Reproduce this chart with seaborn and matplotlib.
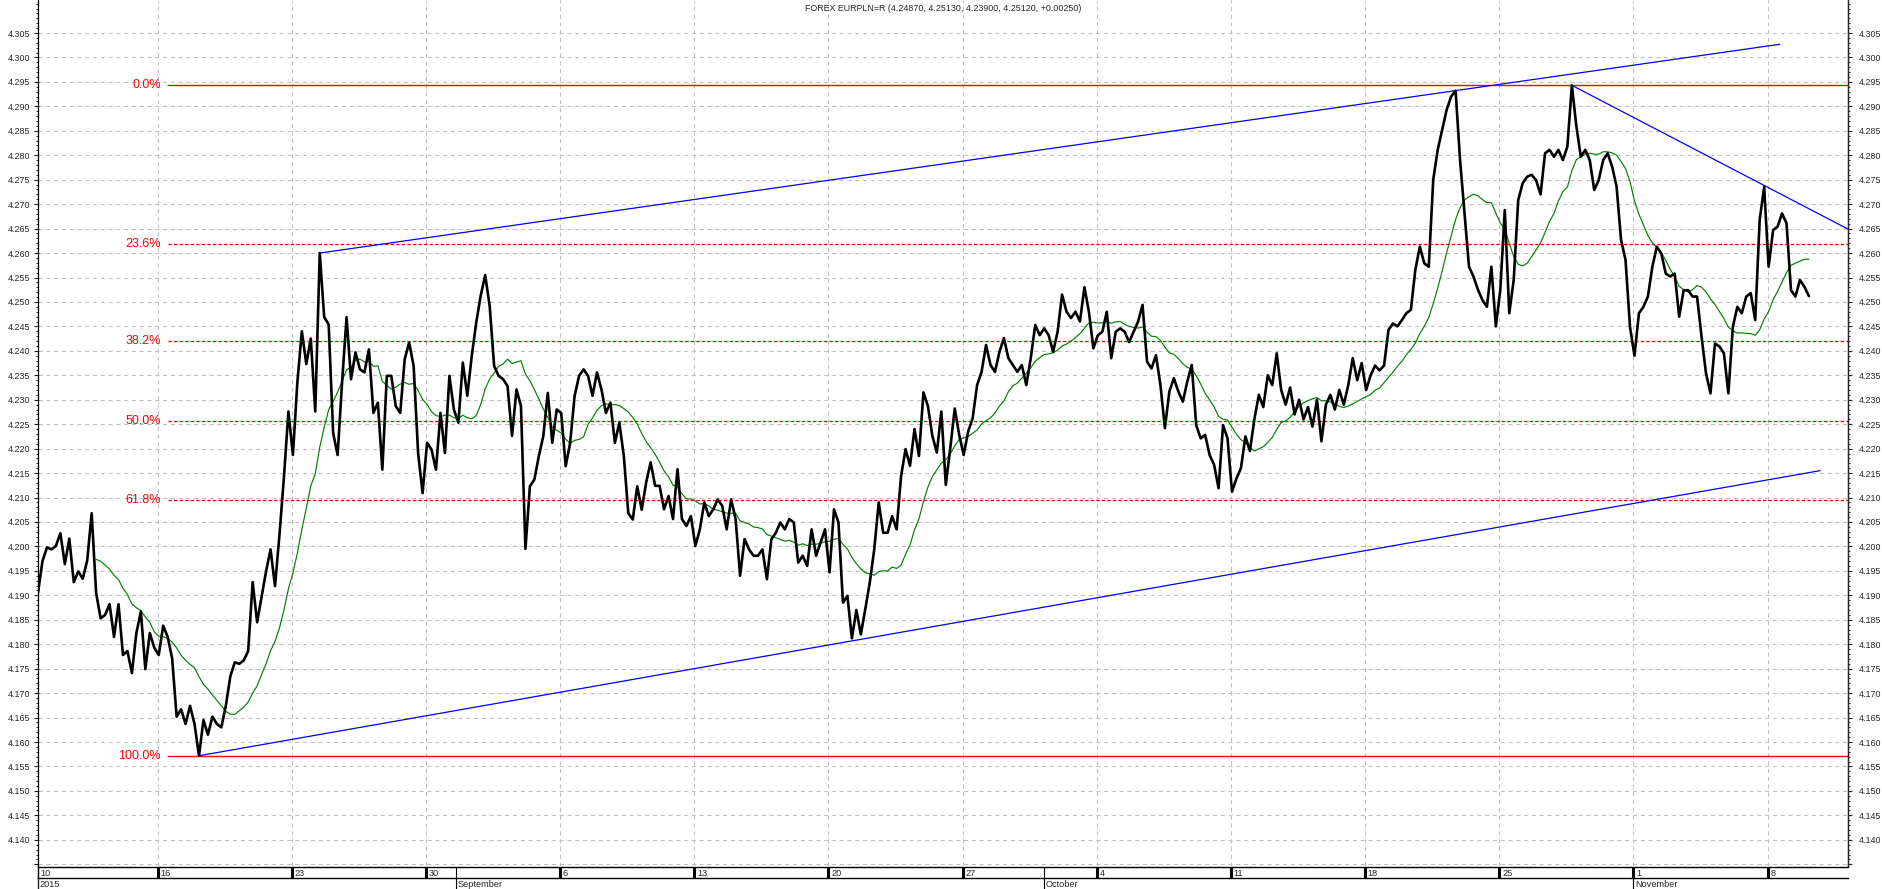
import numpy as np
import pandas as pd
import matplotlib
matplotlib.use("Agg")
import matplotlib.pyplot as plt
from matplotlib.ticker import FixedLocator, FuncFormatter
import seaborn as sns

TITLE = "FOREX EURPLN=R (4.24870, 4.25130, 4.23900, 4.25120, +0.00250)"
BAR_STEP = 4          # hourly bars between two samples below
MA_WINDOW = 14        # samples in the green moving average

# EUR/PLN, one value every 4 hourly bars
aug_10_to_26 = [4.1905, 4.1970, 4.1998, 4.1994, 4.2001, 4.2027, 4.1964, 4.2016, 4.1927, 4.1949,
                4.1934, 4.1971, 4.2068, 4.1905, 4.1853, 4.1860, 4.1882, 4.1815, 4.1882, 4.1778,
                4.1786, 4.1741, 4.1823, 4.1867, 4.1749, 4.1823, 4.1793, 4.1778, 4.1838, 4.1815,
                4.1771, 4.1652, 4.1667, 4.1637, 4.1674, 4.1637, 4.1572, 4.1645, 4.1615, 4.1652,
                4.1637, 4.1630, 4.1674, 4.1734, 4.1763, 4.1760, 4.1767, 4.1786, 4.1927, 4.1845,
                4.1897, 4.1949, 4.1994, 4.1919, 4.2024, 4.2142, 4.2276, 4.2187, 4.2336, 4.2440,
                4.2373, 4.2425, 4.2276, 4.2600, 4.2469, 4.2454, 4.2232, 4.2187, 4.2336, 4.2469]
aug_26_to_sep_14 = [4.2342, 4.2397, 4.2362, 4.2356, 4.2403, 4.2273, 4.2294, 4.2157, 4.2349, 4.2349,
                    4.2287, 4.2273, 4.2383, 4.2417, 4.2369, 4.2191, 4.2109, 4.2212, 4.2198, 4.2157,
                    4.2273, 4.2191, 4.2349, 4.2280, 4.2253, 4.2376, 4.2308, 4.2390, 4.2458, 4.2513,
                    4.2555, 4.2492, 4.2369, 4.2349, 4.2342, 4.2328, 4.2226, 4.2321, 4.2287, 4.1995,
                    4.2123, 4.2137, 4.2185, 4.2226, 4.2314, 4.2212, 4.2280, 4.2273, 4.2164, 4.2212,
                    4.2308, 4.2349, 4.2362, 4.2349, 4.2308, 4.2356, 4.2321, 4.2273, 4.2294, 4.2212,
                    4.2253, 4.2185, 4.2068, 4.2055, 4.2123, 4.2075]
sep_14_to_oct_1 = [4.2131, 4.2172, 4.2124, 4.2124, 4.2076, 4.2103, 4.2056, 4.2158, 4.2056, 4.2042,
                   4.2062, 4.2001, 4.2035, 4.2090, 4.2062, 4.2076, 4.2096, 4.2083, 4.2035, 4.2096,
                   4.2056, 4.1940, 4.2015, 4.1994, 4.1981, 4.1981, 4.1994, 4.1933, 4.2015, 4.2028,
                   4.2049, 4.2035, 4.2056, 4.2049, 4.1967, 4.1981, 4.1960, 4.2035, 4.1981, 4.2008,
                   4.2035, 4.1947, 4.2076, 4.2049, 4.1885, 4.1899, 4.1812, 4.1870, 4.1820, 4.1872,
                   4.1926, 4.1994, 4.2090, 4.2028, 4.2028, 4.2062, 4.2035, 4.2144, 4.2199, 4.2165,
                   4.2240, 4.2185, 4.2315, 4.2287, 4.2226, 4.2192]
oct_1_to_16 = [4.2276, 4.2126, 4.2201, 4.2282, 4.2228, 4.2187, 4.2235, 4.2262, 4.2330, 4.2357,
               4.2412, 4.2371, 4.2357, 4.2398, 4.2426, 4.2385, 4.2371, 4.2357, 4.2371, 4.2330,
               4.2385, 4.2453, 4.2432, 4.2446, 4.2432, 4.2398, 4.2439, 4.2515, 4.2480, 4.2467,
               4.2480, 4.2460, 4.2530, 4.2480, 4.2405, 4.2432, 4.2439, 4.2480, 4.2385, 4.2439,
               4.2446, 4.2439, 4.2418, 4.2439, 4.2460, 4.2494, 4.2378, 4.2364, 4.2391, 4.2330,
               4.2242, 4.2317, 4.2344, 4.2317, 4.2296, 4.2337, 4.2371, 4.2248, 4.2221, 4.2228,
               4.2187, 4.2167, 4.2119, 4.2248, 4.2221, 4.2112, 4.2139]
oct_16_to_nov_2 = [4.2160, 4.2225, 4.2195, 4.2260, 4.2310, 4.2285, 4.2350, 4.2330, 4.2395, 4.2320,
                   4.2290, 4.2325, 4.2270, 4.2300, 4.2260, 4.2285, 4.2245, 4.2300, 4.2215, 4.2290,
                   4.2310, 4.2280, 4.2320, 4.2290, 4.2330, 4.2385, 4.2340, 4.2375, 4.2320, 4.2350,
                   4.2370, 4.2360, 4.2370, 4.2443, 4.2456, 4.2450, 4.2463, 4.2477, 4.2484, 4.2566,
                   4.2613, 4.2579, 4.2572, 4.2750, 4.2811, 4.2852, 4.2893, 4.2920, 4.2932, 4.2790,
                   4.2681, 4.2572, 4.2552, 4.2525, 4.2504, 4.2490, 4.2572, 4.2450, 4.2525, 4.2688,
                   4.2477, 4.2545, 4.2708, 4.2743, 4.2756, 4.2760, 4.2749, 4.2720]
nov_2_to_13 = [4.2804, 4.2811, 4.2797, 4.2811, 4.2790, 4.2818, 4.2943, 4.2860, 4.2797, 4.2811,
               4.2790, 4.2729, 4.2749, 4.2790, 4.2804, 4.2777, 4.2736, 4.2627, 4.2586, 4.2449,
               4.2390, 4.2477, 4.2490, 4.2511, 4.2572, 4.2613, 4.2599, 4.2558, 4.2552, 4.2558,
               4.2470, 4.2524, 4.2524, 4.2511, 4.2511, 4.2429, 4.2354, 4.2313, 4.2415, 4.2409,
               4.2395, 4.2313, 4.2449, 4.2490, 4.2477, 4.2511, 4.2518, 4.2463, 4.2668, 4.2735,
               4.2572, 4.2647, 4.2654, 4.2681, 4.2661, 4.2524, 4.2511, 4.2545, 4.2531, 4.2512]

# x axis (hourly bar index)
week_start_bars = [107, 227, 347, 467, 587, 707, 827, 947, 1067, 1187, 1307, 1427, 1547]
week_labels = ["16", "23", "30", "6", "13", "20", "27", "4", "11", "18", "25", "1", "8"]
first_day_label = "10"
month_bars = [0, 374, 900, 1427]
month_labels = ["2015", "September", "October", "November"]
x_max_bar = 1619

# y axis
y_tick_values = [round(4.135 + 0.005 * i, 3) for i in range(35)]
y_min, y_max = 4.13465, 4.31175

# Fibonacci retracement
fib_high, fib_low = 4.2943, 4.1572
fib_ratios = [0.0, 0.236, 0.382, 0.5, 0.618, 1.0]
fib_labels = ["0.0%", "23.6%", "38.2%", "50.0%", "61.8%", "100.0%"]
fib_start_bar = 116
fib_label_bar = 110

# trend lines (bar, price) endpoints
upper_channel_bars, upper_channel_prices = [252, 1558], [4.2600, 4.3027]
lower_channel_bars, lower_channel_prices = [144, 1594], [4.1572, 4.2155]
down_trend_bars, down_trend_prices = [1372, 1619], [4.2943, 4.2649]

# ---------------------------------------------------------------------------
sns.set_style("white")
plt.rcParams["font.family"] = ["Liberation Sans", "DejaVu Sans"]
plt.rcParams["lines.scale_dashes"] = False

price = np.array(aug_10_to_26 + aug_26_to_sep_14 + sep_14_to_oct_1 +
                 oct_1_to_16 + oct_16_to_nov_2 + nov_2_to_13)
df = pd.DataFrame({"bar": np.arange(len(price)) * BAR_STEP, "price": price})
df["ma"] = df["price"].rolling(MA_WINDOW).mean()

W, H = 1883, 889
fig = plt.figure(figsize=(W / 100, H / 100), dpi=100)
L = 38 / W
AW = (1848 - 38) / W
plot_bottom_px = 866
ax = fig.add_axes([L, (H - plot_bottom_px) / H, AW, plot_bottom_px / H])

grid_kw = dict(color="#c0c0c0", lw=0.75, linestyle=(0, (3.0, 2.6)), zorder=0)
for v in y_tick_values:
    ax.axhline(v, **grid_kw)
for b in week_start_bars:
    ax.axvline(b, **grid_kw)

red = "#ff0000"
for r, lab in zip(fib_ratios, fib_labels):
    lvl = fib_high - r * (fib_high - fib_low)
    solid = r in (0.0, 1.0)
    sns.lineplot(x=[fib_start_bar, x_max_bar], y=[lvl, lvl], ax=ax, color=red,
                 lw=1.0 if solid else 0.95,
                 linestyle="-" if solid else (0, (2.4, 1.6)), zorder=2)
    ax.text(fib_label_bar, lvl, lab, color=red, fontsize=9, ha="right", va="center")

blue = "#0000ff"
for xs, ys in [(upper_channel_bars, upper_channel_prices),
               (lower_channel_bars, lower_channel_prices),
               (down_trend_bars, down_trend_prices)]:
    sns.lineplot(x=xs, y=ys, ax=ax, color=blue, lw=0.9, zorder=3)

sns.lineplot(data=df.dropna(), x="bar", y="ma", ax=ax, color="#008000", lw=0.85,
             estimator=None, sort=False, zorder=4)
sns.lineplot(data=df, x="bar", y="price", ax=ax, color="black", lw=1.9,
             estimator=None, sort=False, zorder=5)

ax.set_xlim(0, x_max_bar)
ax.set_ylim(y_min, y_max)
ax.set_xlabel("")
ax.set_ylabel("")
ax.set_xticks([])
for s in ["top", "bottom"]:
    ax.spines[s].set_visible(False)
for s in ["left", "right"]:
    ax.spines[s].set_color("black")
    ax.spines[s].set_linewidth(0.9)

fmt = FuncFormatter(lambda v, p: "" if abs(v - 4.135) < 1e-6 else f"{v:.3f}")
minor_vals = [round(4.135 + 0.001 * i, 3) for i in range(177)]
ax.yaxis.set_major_locator(FixedLocator(y_tick_values))
ax.yaxis.set_minor_locator(FixedLocator(minor_vals))
ax.yaxis.set_major_formatter(fmt)
ax.tick_params(axis="y", which="major", direction="out", length=3.2, width=0.8,
               labelsize=6.4, pad=2.5, left=True, labelleft=True)
ax.tick_params(axis="y", which="minor", direction="out", length=1.6, width=0.7, left=True)

axr = ax.twinx()
axr.set_ylim(y_min, y_max)
axr.yaxis.set_major_locator(FixedLocator(y_tick_values))
axr.yaxis.set_minor_locator(FixedLocator(minor_vals))
axr.yaxis.set_major_formatter(fmt)
axr.tick_params(axis="y", which="major", direction="out", length=3.2, width=0.8,
                labelsize=6.4, pad=4.5)
axr.tick_params(axis="y", which="minor", direction="out", length=1.6, width=0.7)
for s in ["top", "bottom", "left"]:
    axr.spines[s].set_visible(False)
axr.spines["right"].set_linewidth(0.9)

fig.text(0.5008, 1 - 8.5 / H, TITLE, fontsize=6.4, ha="center", va="center")

# date band
band = fig.add_axes([L, (H - 878) / H, AW, 11 / H], sharex=ax)
band.set_ylim(0, 1)
band.set_yticks([])
band.tick_params(axis="x", bottom=False, labelbottom=False)
band.spines["right"].set_visible(False)
for s in ["top", "bottom", "left"]:
    band.spines[s].set_linewidth(1.0)
    band.spines[s].set_color("black")
band.patch.set_alpha(0)
for b in week_start_bars:
    band.axvline(b, color="black", lw=2.2)
for b, lab in zip([0] + week_start_bars, [first_day_label] + week_labels):
    band.text(b + 2.5, 0.45, lab, fontsize=6.6, ha="left", va="center")

mband = fig.add_axes([L, 0, AW, (H - 878) / H], sharex=ax)
mband.set_ylim(0, 1)
mband.set_yticks([])
mband.tick_params(axis="x", bottom=False, labelbottom=False)
for s in ["top", "bottom", "right"]:
    mband.spines[s].set_visible(False)
mband.spines["left"].set_linewidth(1.0)
mband.patch.set_alpha(0)
for b, lab in zip(month_bars, month_labels):
    if b > 0:
        mband.axvline(b, color="black", lw=0.8)
        band.axvline(b, color="black", lw=0.8)
    mband.text(b + 1.5, 0.45, lab, fontsize=6.6, ha="left", va="center")
band.set_xlim(0, x_max_bar)

fig.savefig("out.png", dpi=100)
